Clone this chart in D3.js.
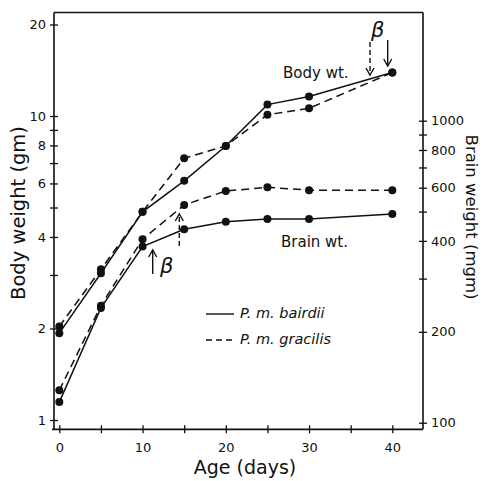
<!DOCTYPE html>
<html><head><meta charset="utf-8">
<script src="https://cdn.jsdelivr.net/npm/d3@7"></script>
<style>body{margin:0;background:#fff}svg{display:block}text{font-family:"DejaVu Sans",sans-serif;fill:#111}</style>
</head><body><svg id="c" width="484" height="481"></svg>
<script>
const days = [0, 5, 10, 15, 20, 25, 30, 40];
const bodyBairdii = [1.93, 3.04, 4.84, 6.12, 7.97, 10.9, 11.6, 13.9];
const bodyGracilis = [2.03, 3.13, 4.84, 7.26, 7.97, 10.1, 10.6, 13.9];
const brainBairdii = [117, 240, 383, 437, 463, 473, 473, 491];
const brainGracilis = [128, 244, 405, 526, 585, 602, 589, 589];
const xTicks = [0, 5, 10, 15, 20, 25, 30, 35, 40];
const xLabels = [0, 10, 20, 30, 40];
const leftTicks = [1, 2, 3, 4, 5, 6, 7, 8, 9, 10, 20];
const leftLabels = [1, 2, 4, 6, 8, 10, 20];
const rightTicks = [100, 200, 300, 400, 500, 600, 700, 800, 900, 1000];
const rightLabels = [100, 200, 400, 600, 800, 1000];

const svg = d3.select("#c");
const L = 54, R = 423, T = 12.5, B = 429.3;
const x = d3.scaleLinear().domain([0, 40]).range([59.3, 392.3]);
const yL = d3.scaleLog().domain([1, 10]).range([420, 116]);
const yR = d3.scaleLog().domain([100, 1000]).range([422.7, 120.7]);

const ink = "#111";
// frame top line
svg.append("line").attr("x1", L).attr("x2", R).attr("y1", T).attr("y2", T)
  .attr("stroke", ink).attr("stroke-width", 1.6);

function styleAxis(g, dir) {
  g.select(".domain").remove();
  g.selectAll(".tick line").attr("stroke", ink).attr("stroke-width", 1.3);
  g.selectAll(".tick text").attr("font-size", 13).attr("fill", ink)
    .style("font-family", "'DejaVu Sans', sans-serif");
}

// bottom axis
const gx = svg.append("g").attr("transform", `translate(0,${B})`)
  .call(d3.axisBottom(x).tickValues(xTicks).tickSize(4).tickPadding(9)
    .tickFormat(d => xLabels.includes(d) ? d : ""));
styleAxis(gx);
gx.selectAll(".tick line").attr("y1", -4).attr("y2", 4);
svg.append("line").attr("x1", L - 2).attr("x2", R).attr("y1", B).attr("y2", B)
  .attr("stroke", ink).attr("stroke-width", 1.8);

// left axis
const gl = svg.append("g").attr("transform", `translate(${L},0)`)
  .call(d3.axisLeft(yL).tickValues(leftTicks).tickSize(4).tickPadding(4)
    .tickFormat(d => leftLabels.includes(d) ? d : ""));
styleAxis(gl);
gl.selectAll(".tick line").attr("x1", -4).attr("x2", 4);
svg.append("line").attr("x1", L).attr("x2", L).attr("y1", T).attr("y2", B)
  .attr("stroke", ink).attr("stroke-width", 1.6);

// right axis
const gr = svg.append("g").attr("transform", `translate(${R},0)`)
  .call(d3.axisRight(yR).tickValues(rightTicks).tickSize(4).tickPadding(4)
    .tickFormat(d => rightLabels.includes(d) ? d : ""));
styleAxis(gr);
gr.selectAll(".tick line").attr("x1", -4).attr("x2", 4);
svg.append("line").attr("x1", R).attr("x2", R).attr("y1", T).attr("y2", B)
  .attr("stroke", ink).attr("stroke-width", 1.6);

// axis titles
svg.append("text").attr("transform", "translate(25,213) rotate(-90)")
  .attr("text-anchor", "middle").attr("font-size", 19.5).text("Body weight (gm)");
svg.append("text").attr("transform", "translate(466,217) rotate(90)")
  .attr("text-anchor", "middle").attr("font-size", 16.5).text("Brain weight (mgm)");
svg.append("text").attr("x", 245).attr("y", 474)
  .attr("text-anchor", "middle").attr("font-size", 19).text("Age (days)");

// series
const series = [
  {vals: bodyBairdii, y: yL, dash: null},
  {vals: bodyGracilis, y: yL, dash: "8,5"},
  {vals: brainBairdii, y: yR, dash: null},
  {vals: brainGracilis, y: yR, dash: "8,5"}
];
series.forEach(s => {
  const line = d3.line().x((d, i) => x(days[i])).y(d => s.y(d));
  svg.append("path").attr("d", line(s.vals)).attr("fill", "none")
    .attr("stroke", ink).attr("stroke-width", 1.5)
    .attr("stroke-dasharray", s.dash);
  svg.selectAll(null).data(s.vals).enter().append("circle")
    .attr("cx", (d, i) => x(days[i])).attr("cy", d => s.y(d)).attr("r", 4)
    .attr("fill", ink);
});

// labels
svg.append("text").attr("x", 283).attr("y", 78).attr("font-size", 15).text("Body wt.");
svg.append("text").attr("x", 281).attr("y", 247).attr("font-size", 15).text("Brain wt.");

// legend
svg.append("line").attr("x1", 206).attr("x2", 234).attr("y1", 314).attr("y2", 314)
  .attr("stroke", ink).attr("stroke-width", 1.4);
svg.append("line").attr("x1", 206).attr("x2", 234).attr("y1", 340).attr("y2", 340)
  .attr("stroke", ink).attr("stroke-width", 1.4).attr("stroke-dasharray", "6,4");
svg.append("text").attr("x", 240).attr("y", 318).attr("font-size", 14.5)
  .attr("font-style", "italic").text("P. m. bairdii");
svg.append("text").attr("x", 240).attr("y", 344).attr("font-size", 14.5)
  .attr("font-style", "italic").text("P. m. gracilis");

// arrows
function arrow(x0, y0, y1, dashed) {
  const dir = y1 < y0 ? 1 : -1;
  svg.append("line").attr("x1", x0).attr("x2", x0).attr("y1", y0).attr("y2", y1)
    .attr("stroke", ink).attr("stroke-width", 1.4)
    .attr("stroke-dasharray", dashed ? "5,3" : null);
  svg.append("path")
    .attr("d", `M${x0 - 4},${y1 + dir * 7}L${x0},${y1}L${x0 + 4},${y1 + dir * 7}`)
    .attr("fill", "none").attr("stroke", ink).attr("stroke-width", 1.4);
}
arrow(152.7, 274, 250, false);
arrow(179.3, 246, 214, true);
arrow(370, 42, 75, true);
arrow(387.7, 40, 66, false);
svg.append("text").attr("x", 160).attr("y", 273).attr("font-size", 21)
  .attr("font-style", "italic").text("β");
svg.append("text").attr("x", 371).attr("y", 37).attr("font-size", 21)
  .attr("font-style", "italic").text("β");
</script></body></html>
